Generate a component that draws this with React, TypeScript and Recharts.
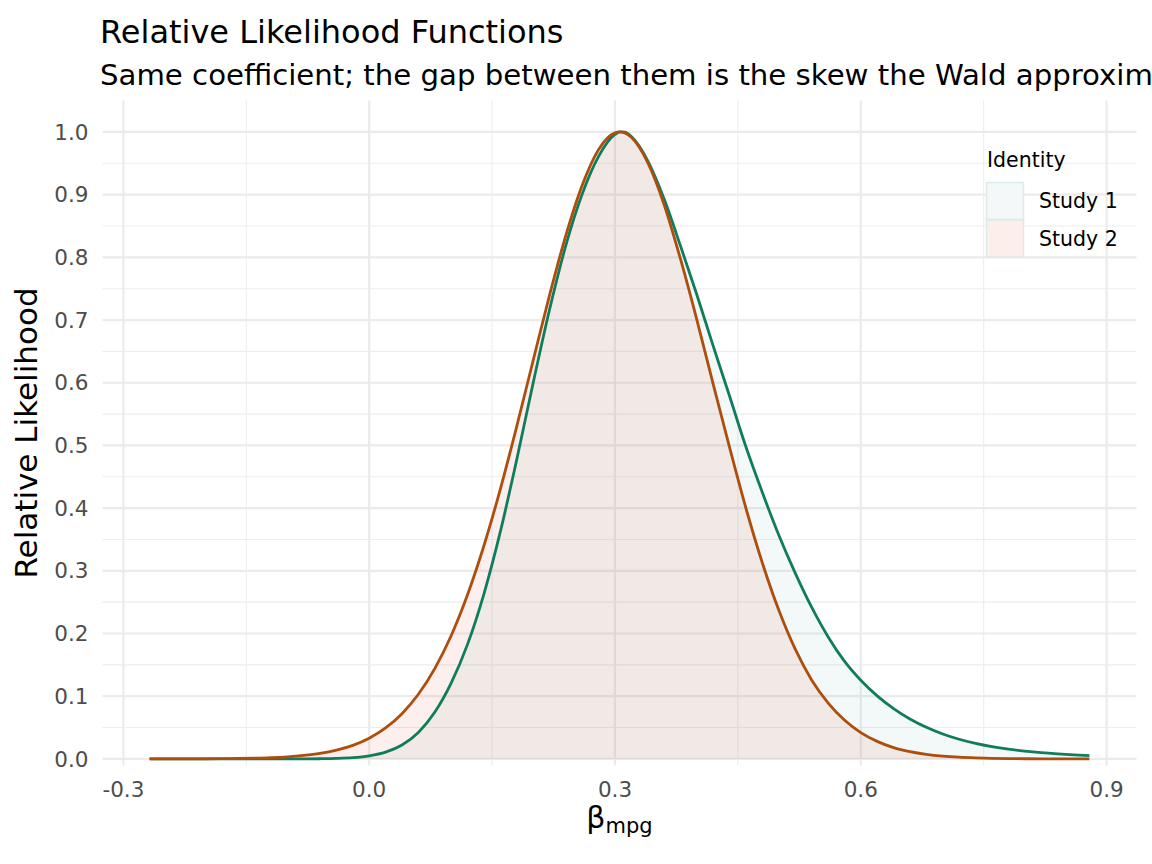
import React from 'react';
import {
  ComposedChart,
  Area,
  Line,
  XAxis,
  YAxis,
  CartesianGrid,
} from 'recharts';

// coefficient grid and the two relative likelihood curves
const beta = [
  -0.268, -0.26, -0.24, -0.22, -0.2, -0.18, -0.16, -0.14, -0.12, -0.1,
  -0.08, -0.06, -0.04, -0.02, 0, 0.02, 0.04, 0.06, 0.08, 0.1,
  0.12, 0.14, 0.16, 0.18, 0.2, 0.22, 0.24, 0.26, 0.28, 0.3,
  0.306, 0.312, 0.32, 0.34, 0.36, 0.38, 0.4, 0.42, 0.44, 0.46,
  0.48, 0.5, 0.52, 0.54, 0.56, 0.58, 0.6, 0.62, 0.64, 0.66,
  0.68, 0.7, 0.72, 0.74, 0.76, 0.78, 0.8, 0.82, 0.84, 0.86,
  0.879,
];

const study1 = [
  0, 0, 0, 0, 0, 0, 0, 0, 0, 0,
  0.0001, 0.0003, 0.0008, 0.002, 0.0049, 0.0108, 0.0223, 0.0423, 0.0743, 0.1208,
  0.1827, 0.263, 0.362, 0.477, 0.599, 0.716, 0.819, 0.901, 0.961, 0.996,
  1.0, 0.9995, 0.9925, 0.954, 0.893, 0.818, 0.74, 0.658, 0.578, 0.497,
  0.4245, 0.3567, 0.2964, 0.242, 0.195, 0.156, 0.1255, 0.1005, 0.0802, 0.0637,
  0.0504, 0.0398, 0.0314, 0.0248, 0.0196, 0.0155, 0.0124, 0.0099, 0.008, 0.0065,
  0.0054,
];

const study2 = [
  0, 0, 0.0001, 0.0001, 0.0002, 0.0004, 0.0007, 0.0012, 0.002, 0.0033,
  0.0055, 0.0088, 0.014, 0.0217, 0.0331, 0.0494, 0.0722, 0.1031, 0.144, 0.1965,
  0.2618, 0.34, 0.43, 0.53, 0.635, 0.739, 0.835, 0.915, 0.972, 0.9985,
  1.0, 0.9985, 0.9915, 0.951, 0.884, 0.797, 0.7, 0.597, 0.496, 0.399,
  0.312, 0.237, 0.175, 0.126, 0.0895, 0.062, 0.042, 0.028, 0.018, 0.0116,
  0.0073, 0.0045, 0.0027, 0.0016, 0.0009, 0.0005, 0.0003, 0.0002, 0.0001, 0.0001,
  0,
];

const xTicks = [-0.3, 0, 0.3, 0.6, 0.9];
const xMinor = [-0.15, 0.15, 0.45, 0.75];
const yTicks = [0, 0.1, 0.2, 0.3, 0.4, 0.5, 0.6, 0.7, 0.8, 0.9, 1];
const yMinor = [0.05, 0.15, 0.25, 0.35, 0.45, 0.55, 0.65, 0.75, 0.85, 0.95];

const seriesNames = ['Study 1', 'Study 2'];
const lineColors = ['#0f7d5c', '#ad4e0c'];
const areaFills = ['#2a8a7a', '#e1604d'];
const keyFills = ['#f4f8f8', '#fbeeeb'];

const FONT = '"DejaVu Sans", sans-serif';

const rows = beta.map((b, i) => ({ beta: b, s1: study1[i], s2: study2[i] }));

export default function App() {
  const tickStyle = { fill: '#4d4d4d', fontSize: 21.5, fontFamily: FONT };

  return (
    <div style={{ position: 'absolute', left: 0, top: 0, width: 1152, height: 864, background: '#fff' }}>
      <ComposedChart
        width={1152}
        height={864}
        data={rows}
        margin={{ top: 100.6, right: 15.5, bottom: 0, left: 0 }}
      >
        <CartesianGrid
          horizontalValues={yMinor}
          verticalValues={xMinor}
          stroke="#ededed"
          strokeWidth={1.1}
        />
        <CartesianGrid
          horizontalValues={yTicks}
          verticalValues={xTicks}
          stroke="#ebebeb"
          strokeWidth={2.2}
        />
        <XAxis
          dataKey="beta"
          type="number"
          domain={[-0.3255, 0.9365]}
          ticks={xTicks}
          allowDataOverflow
          tickFormatter={(v: number) => v.toFixed(1)}
          axisLine={false}
          tickLine={false}
          tickSize={0}
          tickMargin={16.5}
          tick={tickStyle}
          height={98.5}
        />
        <YAxis
          type="number"
          domain={[-0.0105, 1.05]}
          ticks={yTicks}
          allowDataOverflow
          tickFormatter={(v: number) => v.toFixed(1)}
          axisLine={false}
          tickLine={false}
          tickSize={0}
          tickMargin={14}
          tick={tickStyle}
          width={102.5}
        />
        <Area
          dataKey="s1"
          type="monotone"
          baseValue={0}
          stroke="none"
          fill={areaFills[0]}
          fillOpacity={0.055}
          isAnimationActive={false}
        />
        <Area
          dataKey="s2"
          type="monotone"
          baseValue={0}
          stroke="none"
          fill={areaFills[1]}
          fillOpacity={0.1}
          isAnimationActive={false}
        />
        <Line
          dataKey="s1"
          type="monotone"
          stroke={lineColors[0]}
          strokeWidth={2.8}
          dot={false}
          isAnimationActive={false}
        />
        <Line
          dataKey="s2"
          type="monotone"
          stroke={lineColors[1]}
          strokeWidth={2.8}
          dot={false}
          isAnimationActive={false}
        />
      </ComposedChart>

      <svg
        width={1152}
        height={864}
        style={{ position: 'absolute', left: 0, top: 0, pointerEvents: 'none' }}
        fontFamily={FONT}
      >
        <text x={100} y={43} fontSize={32} fill="#000">
          Relative Likelihood Functions
        </text>
        <text x={100} y={85} fontSize={29.2} fill="#000">
          Same coefficient; the gap between them is the skew the Wald approximation misses
        </text>
        <text
          x={37}
          y={433}
          fontSize={31}
          fill="#000"
          textAnchor="middle"
          transform="rotate(-90 37 433)"
        >
          Relative Likelihood
        </text>
        <text x={619.5} y={828} textAnchor="middle" fill="#000">
          <tspan fontSize={30}>β</tspan>
          <tspan fontSize={21} dy={5}>mpg</tspan>
        </text>

        <text x={987} y={166.5} fontSize={20.5} fill="#000">
          Identity
        </text>
        {seriesNames.map((name, i) => (
          <g key={name}>
            <rect
              x={986.5}
              y={182.5 + i * 37.5}
              width={37}
              height={37}
              fill={keyFills[i]}
              stroke="#dcebe8"
              strokeWidth={1.5}
            />
            <text x={1039} y={208.3 + i * 37.5} fontSize={20.5} fill="#000">
              {name}
            </text>
          </g>
        ))}
      </svg>
    </div>
  );
}
